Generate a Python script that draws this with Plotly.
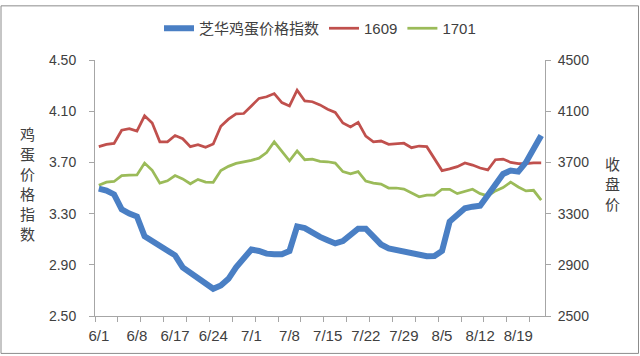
import plotly.graph_objects as go

dates = ["6/1","6/2","6/3","6/6","6/7","6/8","6/13","6/14","6/15","6/16","6/17",
         "6/20","6/21","6/22","6/23","6/24","6/27","6/28","6/29","6/30",
         "7/1","7/4","7/5","7/6","7/7","7/8","7/11","7/12","7/13","7/14","7/15",
         "7/18","7/19","7/20","7/21","7/22","7/25","7/26","7/27","7/28","7/29",
         "8/1","8/2","8/3","8/4","8/5","8/8","8/9","8/10","8/11","8/12",
         "8/15","8/16","8/17","8/18","8/19","8/22","8/23","8/24"]

egg_index = [3.495,3.48,3.45,3.333,3.30,3.277,3.123,3.085,3.046,3.008,2.974,
             2.88,2.84,2.80,2.75,2.713,2.738,2.79,2.88,2.95,
             3.02,3.008,2.987,2.982,2.982,3.008,3.20,3.187,3.149,3.118,3.092,
             3.067,3.085,3.136,3.182,3.182,3.123,3.059,3.028,3.015,3.005,
             2.99,2.977,2.967,2.969,3.008,3.238,3.295,3.341,3.354,3.362,
             3.444,3.533,3.61,3.636,3.628,3.70,3.802,3.91]

c1609 = [3823,3841,3848,3951,3964,3944,4064,4008,3861,3861,3910,
         3885,3823,3838,3818,3844,3982,4038,4079,4082,
         4140,4200,4213,4238,4167,4141,4264,4180,4174,4149,4115,
         4090,4008,3977,4013,3905,3861,3867,3841,3846,3850,
         3815,3828,3823,3731,3636,3649,3667,3695,3679,3656,
         3641,3721,3726,3700,3690,3690,3697,3697,3733]

c1701 = [3521,3546,3551,3597,3600,3602,3695,3638,3538,3556,3597,
         3571,3533,3567,3546,3544,3636,3669,3692,3703,
         3716,3733,3777,3861,3787,3713,3790,3721,3726,3708,3705,
         3695,3628,3610,3628,3554,3538,3531,3500,3500,3492,
         3464,3431,3444,3444,3490,3490,3456,3474,3490,3456,
         3438,3477,3503,3546,3508,3477,3482,3405,3387]

left_ticks = [2.50, 2.90, 3.30, 3.70, 4.10, 4.50]
right_ticks = [2500, 2900, 3300, 3700, 4100, 4500]
left_title = "鸡蛋价格指数"
right_title = "收盘价"
label_step = 5
tick_step = 3

pos = list(range(len(dates)))
label_pos = pos[::label_step]
label_txt = dates[::label_step]

AX = "#A6A6A6"
TXT = "#404040"
FONT = "Liberation Sans, Noto Sans CJK SC, sans-serif"
W, H = 640, 356
L, R, T, B = 95, 95, 56, 40
PW, PH = W - L - R, H - T - B


def px(x):
    return (x - L) / PW


def py(y):
    return (H - B - y) / PH


fig = go.Figure()
fig.add_trace(go.Scatter(x=pos, y=egg_index, name="芝华鸡蛋价格指数", mode="lines",
                         line=dict(color="#4A7FC4", width=6), yaxis="y2"))
fig.add_trace(go.Scatter(x=pos, y=c1609, name="1609", mode="lines",
                         line=dict(color="#C0504D", width=2.75), yaxis="y"))
fig.add_trace(go.Scatter(x=pos, y=c1701, name="1701", mode="lines",
                         line=dict(color="#9BBB59", width=2.75), yaxis="y"))

fig.update_layout(
    width=W, height=H,
    margin=dict(l=L, r=R, t=T, b=B),
    paper_bgcolor="white", plot_bgcolor="white",
    font=dict(family=FONT, color=TXT, size=14),
    showlegend=True,
    legend=dict(orientation="h", x=px(320), xanchor="center", y=py(24), yanchor="middle",
                font=dict(size=15, family=FONT, color=TXT), itemwidth=30,
                traceorder="normal", bgcolor="rgba(0,0,0,0)"),
    xaxis=dict(range=[-0.5, len(dates) - 0.5], tickmode="array", tickvals=label_pos,
               ticktext=label_txt, ticks="", showgrid=False, zeroline=False,
               showline=True, linecolor=AX, linewidth=1,
               tickfont=dict(size=15, color=TXT), ticklabelstandoff=6,
               minor=dict(tickmode="linear", tick0=-0.5, dtick=tick_step, ticks="outside",
                          ticklen=5, tickcolor=AX, tickwidth=1, showgrid=False)),
    yaxis=dict(range=[2500, 4500], tickmode="array", tickvals=right_ticks,
               side="right", ticks="outside", ticklen=5, tickcolor=AX,
               showline=True, linecolor=AX, linewidth=1, showgrid=False, zeroline=False,
               tickfont=dict(size=14, color=TXT), ticklabelstandoff=4),
    yaxis2=dict(range=[2.5, 4.5], tickmode="array", tickvals=left_ticks,
                tickformat=".2f", side="left", overlaying="y", ticks="outside",
                ticklen=5, tickcolor=AX, showline=True, linecolor=AX, linewidth=1,
                showgrid=False, zeroline=False,
                tickfont=dict(size=14, color=TXT), ticklabelstandoff=10),
)

step = 20.4
for k, ch in enumerate(left_title):
    yc = 181.5 + (k - (len(left_title) - 1) / 2) * step
    fig.add_annotation(text=ch, xref="paper", yref="paper", x=px(27), y=py(yc),
                       showarrow=False, xanchor="center", yanchor="middle",
                       font=dict(size=15, color=TXT, family="Noto Sans CJK SC"))
for k, ch in enumerate(right_title):
    yc = 181.5 + (k - (len(right_title) - 1) / 2) * step
    fig.add_annotation(text=ch, xref="paper", yref="paper", x=px(612), y=py(yc),
                       showarrow=False, xanchor="center", yanchor="middle",
                       font=dict(size=15, color=TXT, family="Noto Sans CJK SC"))

fig.add_shape(type="rect", xref="paper", yref="paper",
              x0=px(1), x1=px(638.5), y0=py(354), y1=py(1),
              line=dict(color="#8C8C8C", width=1), fillcolor="rgba(0,0,0,0)", layer="below")

fig.write_html("out.html",
               config={"displayModeBar": False},
               post_script="document.body.style.margin='0';document.body.style.overflow='hidden';")
